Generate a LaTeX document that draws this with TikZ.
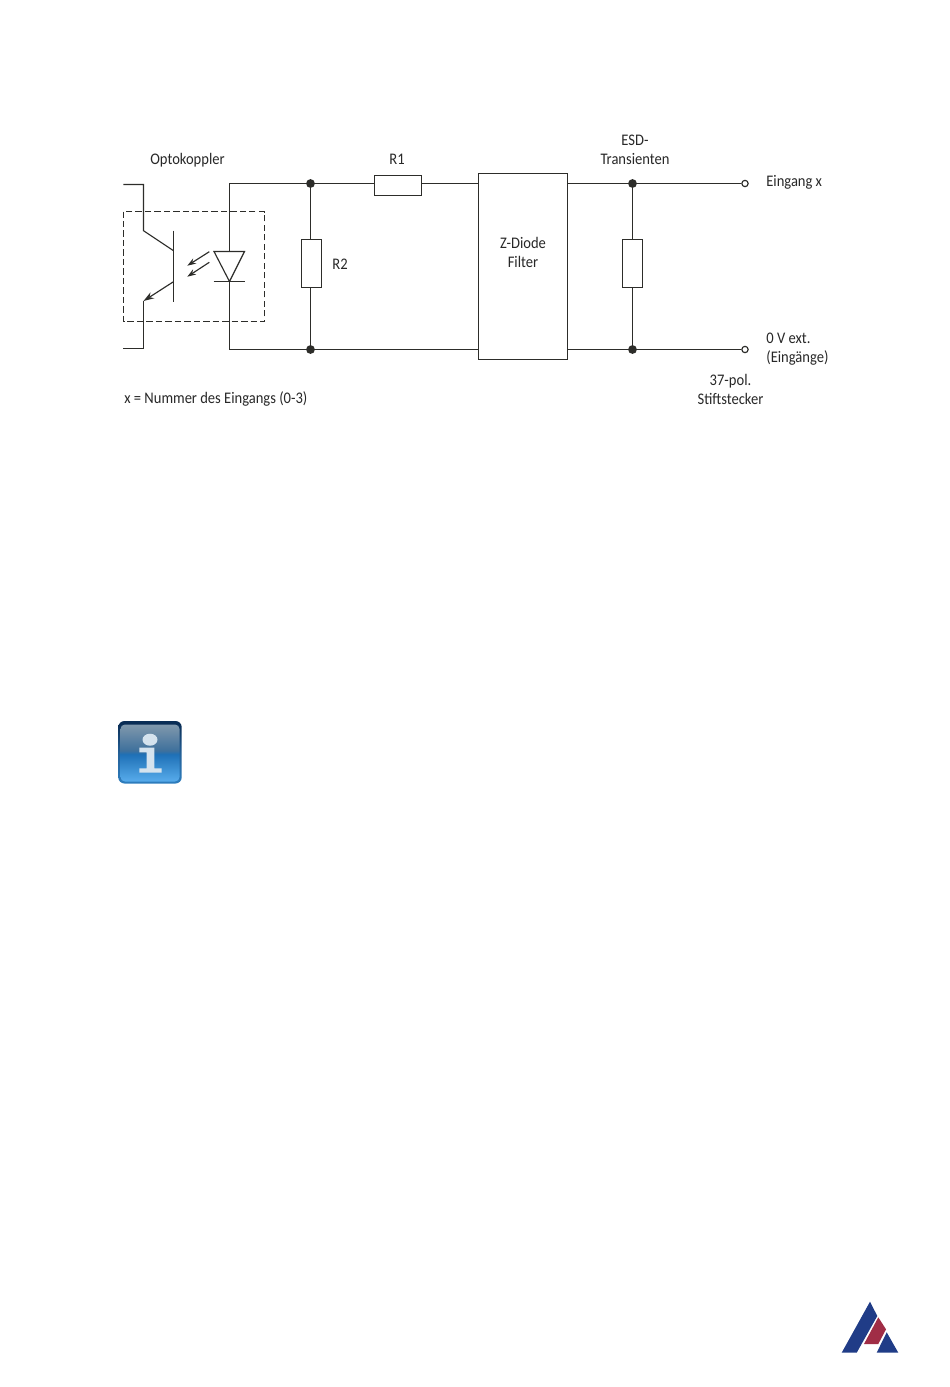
\documentclass[tikz,border=0pt]{standalone}
\usepackage{fontspec}
\usepackage{xcolor}
\setmainfont[FakeStretch=0.9]{Carlito}
\usetikzlibrary{arrows.meta}
\definecolor{wirecol}{RGB}{45, 45, 42}
\definecolor{labelcol}{RGB}{40, 40, 40}
\definecolor{logoblue}{RGB}{32, 60, 135}
\definecolor{logored}{RGB}{160, 45, 70}
\definecolor{edgeA}{RGB}{45, 125, 190}
\definecolor{edgeB}{RGB}{35, 95, 150}
\definecolor{edgeC}{RGB}{10, 45, 85}
\definecolor{iconA}{RGB}{88, 172, 236}
\definecolor{iconB}{RGB}{30, 112, 182}
\definecolor{iconC}{RGB}{62, 112, 156}
\definecolor{iconD}{RGB}{128, 152, 172}
\definecolor{iconglyph}{RGB}{213, 227, 238}
\pgfdeclareverticalshading{iconedge}{100bp}{color(0bp)=(edgeA); color(25bp)=(edgeA); color(50bp)=(edgeB); color(73bp)=(edgeC); color(100bp)=(edgeC)}
\pgfdeclareverticalshading{iconface}{100bp}{color(0bp)=(iconA); color(25bp)=(iconA); color(49bp)=(iconB); color(52bp)=(iconC); color(75bp)=(iconD); color(100bp)=(iconD)}
\tikzset{
  wire/.style={wirecol, line width=0.65pt},
  partbox/.style={draw=wirecol, line width=0.65pt, fill=white, inner sep=0pt},
  dotnode/.style={circle, fill=wirecol, inner sep=0pt, minimum size=5pt},
  termnode/.style={circle, draw=wirecol, fill=white, line width=0.65pt, inner sep=0pt, minimum size=3.6pt},
  txt/.style={labelcol, font=\fontsize{9.2}{10.8}\selectfont, inner sep=0pt, align=center}
}

\begin{document}
\begin{tikzpicture}[x=0.02cm, y=-0.02cm]
\useasboundingbox (0,0) rectangle (950,1387);
\fill[white] (0,0) rectangle (950,1387);

% junctions and terminals
\node[dotnode] (dottl) at (310.5,183.5) {};
\node[dotnode] (dotbl) at (310.5,349.5) {};
\node[dotnode] (dottr) at (632.5,183.5) {};
\node[dotnode] (dotbr) at (632.5,349.5) {};
\node[termnode] (termin) at (745,183.5) {};
\node[termnode] (termgnd) at (745,349.5) {};

% parts
\node[partbox, minimum width=0.94cm, minimum height=0.4cm] (rone) at (398,185.5) {};
\node[partbox, minimum width=0.4cm, minimum height=0.96cm] (rtwo) at (311.5,263.5) {};
\node[partbox, minimum width=0.4cm, minimum height=0.96cm] (resd) at (632.5,263.5) {};
\node[partbox, minimum width=1.78cm, minimum height=3.72cm] (filter) at (523,266.5) {};

% wires
\draw[wire] (dottl) -- (rone.west |- dottl);
\draw[wire] (rone.east |- dottl) -- (filter.west |- dottl);
\draw[wire] (filter.east |- dottr) -- (dottr);
\draw[wire] (dottr) -- (termin);
\draw[wire] (dotbl) -- (filter.west |- dotbl);
\draw[wire] (filter.east |- dotbr) -- (dotbr);
\draw[wire] (dotbr) -- (termgnd);
\draw[wire] (dottl) -- (dottl |- rtwo.north);
\draw[wire] (dottl |- rtwo.south) -- (dotbl);
\draw[wire] (dottr) -- (resd);
\draw[wire] (resd) -- (dotbr);

% optocoupler
\draw[wirecol, line width=0.65pt, dash pattern=on 3.6pt off 1.8pt] (123.5,211.5) rectangle (264.5,321.5);
\coordinate (diodea) at (229.5,251.5);
\coordinate (diodek) at (229.5,281.5);
\draw[wire] (dottl) -| (diodea);
\draw[wire] (diodek) |- (dotbl);
\draw[wire] (214,251.5) -- (244.5,251.5) -- (diodek) -- cycle;
\draw[wire] (213.5,281.5) -- (244.5,281.5);
\draw[wire] (173.5,230.7) -- (173.5,301.7);
\draw[wire] (123.3,184.5) -- (143.5,184.5) -- (143.5,230.7) -- (173.5,250.7);
\draw[wire, -{Stealth[length=6pt,width=4pt]}] (173.5,281.7) -- (143.5,301);
\draw[wire] (143.5,301) -- (143.5,348.5) -- (123.3,348.5);
\draw[wire, -{Stealth[length=5pt,width=3.4pt]}] (209.3,251.7) -- (187.3,265.7);
\draw[wire, -{Stealth[length=5pt,width=3.4pt]}] (209.3,262.3) -- (187.3,276.7);

% labels
\node[txt] (lopto) at (187.5,160) {Optokoppler};
\node[txt] (lrone) at (397,159.5) {R1};
\node[txt] (lrtwo) at (340,264.5) {R2};
\node[txt] (lfilter) at (523,252) {Z-Diode\\Filter};
\node[txt] (lesd) at (635,150) {ESD-\\Transienten};
\node[txt, anchor=west] (lin) at (766,182.5) {Eingang x};
\node[txt, anchor=west, align=left] (lgnd) at (766,349) {0 V ext.\\(Eingänge)};
\node[txt] (lpol) at (730.5,389) {37-pol.\\Stiftstecker};
\node[txt, anchor=west] (lnote) at (124,399) {x = Nummer des Eingangs (0-3)};

% info icon
\draw[draw=none, rounded corners=3.5pt, shading=iconedge] (118.3,721) rectangle (181.7,783.5);
\draw[draw=none, rounded corners=2.5pt, shading=iconface] (120.5,724.5) rectangle (179.5,781.5);
\fill[iconglyph] (150,739.7) ellipse (7.5 and 6);
\fill[iconglyph] (139.3,747.7) -- (154.3,747.7) -- (154.3,768.3) -- (161.7,768.3) -- (161.7,772.7) -- (139.3,772.7) -- (139.3,768.3) -- (146.7,768.3) -- (146.7,752.3) -- (139.3,752.3) -- cycle;

% logo
\fill[logoblue] (870,1301.7) -- (877.3,1316) -- (856.7,1352.7) -- (841.7,1352.7) -- cycle;
\fill[logored] (878.3,1317.3) -- (886,1329.3) -- (878.3,1344) -- (864,1344) -- cycle;
\fill[logoblue] (886.7,1332.3) -- (898.3,1352.7) -- (876.7,1352.7) -- cycle;
\end{tikzpicture}
\end{document}
